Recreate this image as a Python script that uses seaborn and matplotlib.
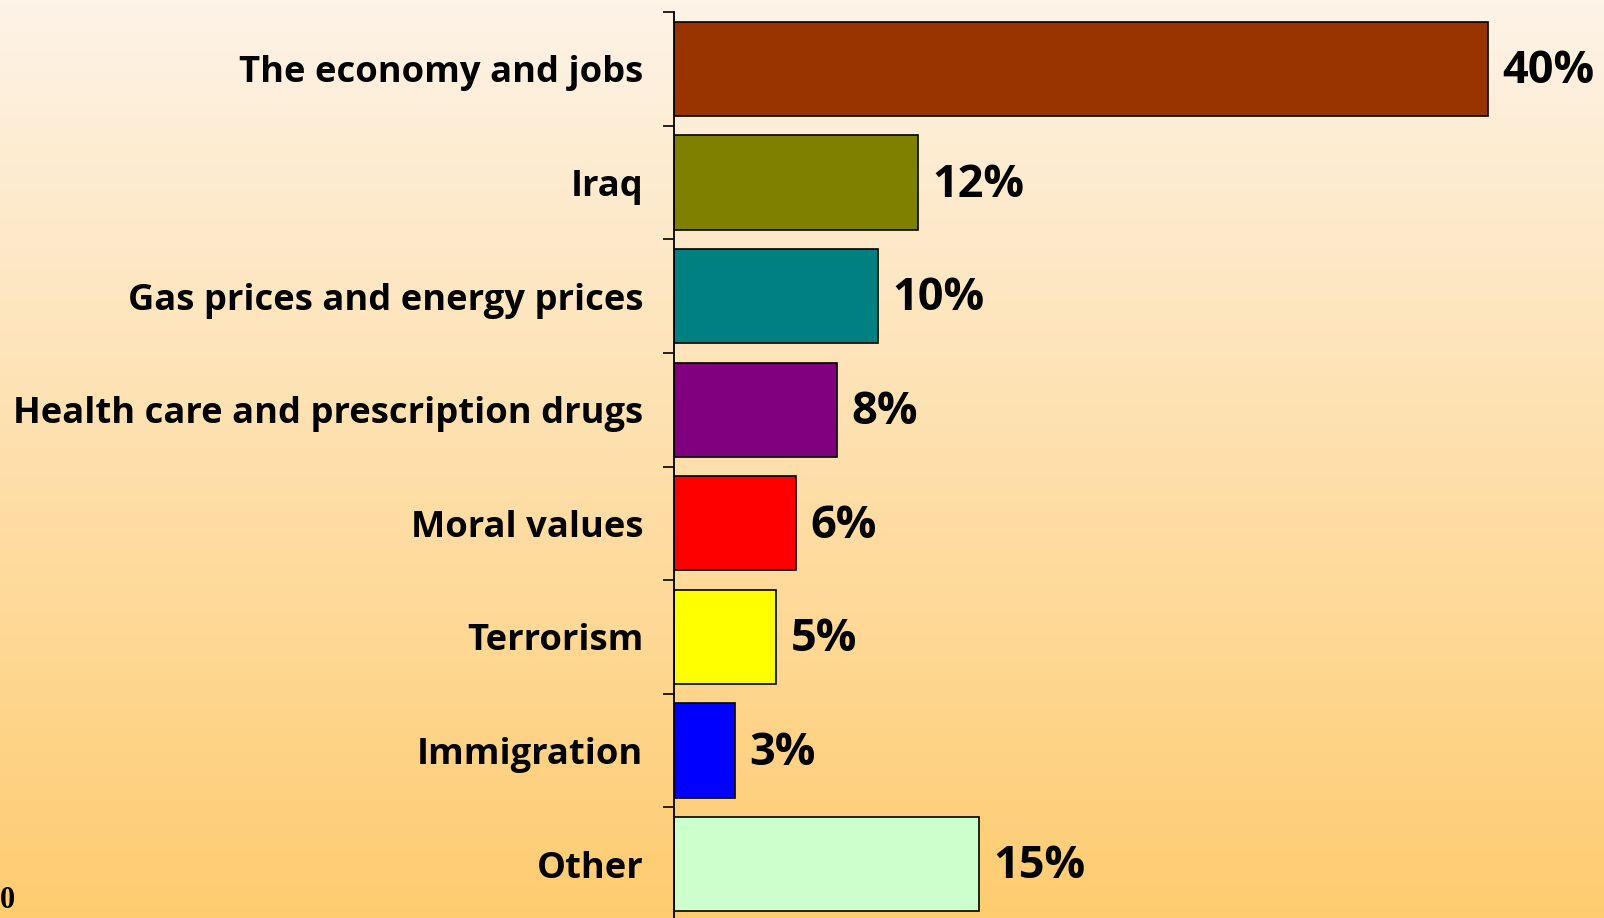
import numpy as np
import matplotlib
matplotlib.use("Agg")
import matplotlib.pyplot as plt
import seaborn as sns

categories = ["The economy and jobs", "Iraq", "Gas prices and energy prices",
              "Health care and prescription drugs", "Moral values", "Terrorism",
              "Immigration", "Other"]
values = [40, 12, 10, 8, 6, 5, 3, 15]
value_labels = ["40%", "12%", "10%", "8%", "6%", "5%", "3%", "15%"]
colors = ["#993300", "#808000", "#008080", "#800080", "#FF0000", "#FFFF00",
          "#0000FF", "#CCFFCC"]

sns.set_theme(style="white")
plt.rcParams['font.family'] = ['Open Sans', 'DejaVu Sans']

W, H = 1604, 918
fig = plt.figure(figsize=(W / 100, H / 100), dpi=100)

# gradient background
bg = fig.add_axes([0, 0, 1, 1], zorder=0)
top = np.array([253, 243, 231]) / 255
bot = np.array([255, 204, 112]) / 255
t = np.linspace(0, 1, 256)[:, None]
grad = top[None, :] * (1 - t) + bot[None, :] * t
bg.imshow(grad[:, None, :], aspect='auto', extent=[0, 1, 0, 1])
bg.set_axis_off()

left = 674 / W
ax_top = 1 - 12 / H
ax_bottom = (H - 921) / H
ax = fig.add_axes([left, ax_bottom, 1 - left, ax_top - ax_bottom], zorder=1)
ax.patch.set_alpha(0)

sns.barplot(x=values, y=categories, hue=categories, palette=colors, legend=False,
            width=0.83, edgecolor="black", linewidth=1.2, saturation=1, ax=ax)

ax.set_xlim(0, (W - 674) / 20.35)
ax.set_ylim(len(categories) - 0.5, -0.5)

for i, (v, lab) in enumerate(zip(values, value_labels)):
    ax.annotate(lab, xy=(v, i), xytext=(10.5, -2), textcoords="offset points",
                ha="left", va="center", fontsize=32.5, fontweight="bold",
                color="black")

ax.set_xticks([])
ax.set_xlabel("")
ax.set_ylabel("")
ax.set_yticks(range(len(categories)))
ax.set_yticklabels(categories, fontsize=26.2, fontweight="bold", color="black")
ax.tick_params(axis="y", which="major", length=0, pad=22)
ax.set_yticks(np.arange(-0.5, len(categories) - 0.5, 1.0), minor=True)
ax.tick_params(axis="y", which="minor", length=8, width=1.2, direction="out",
               color="black", left=True)

for s in ["top", "right", "bottom"]:
    ax.spines[s].set_visible(False)
ax.spines["left"].set_color("black")
ax.spines["left"].set_linewidth(1.3)

fig.text(0, 1 - 908 / H, "0", ha="left", va="baseline",
         fontsize=22, fontfamily="Liberation Serif", fontweight="bold", color="black")

fig.savefig("out.png", dpi=100)
